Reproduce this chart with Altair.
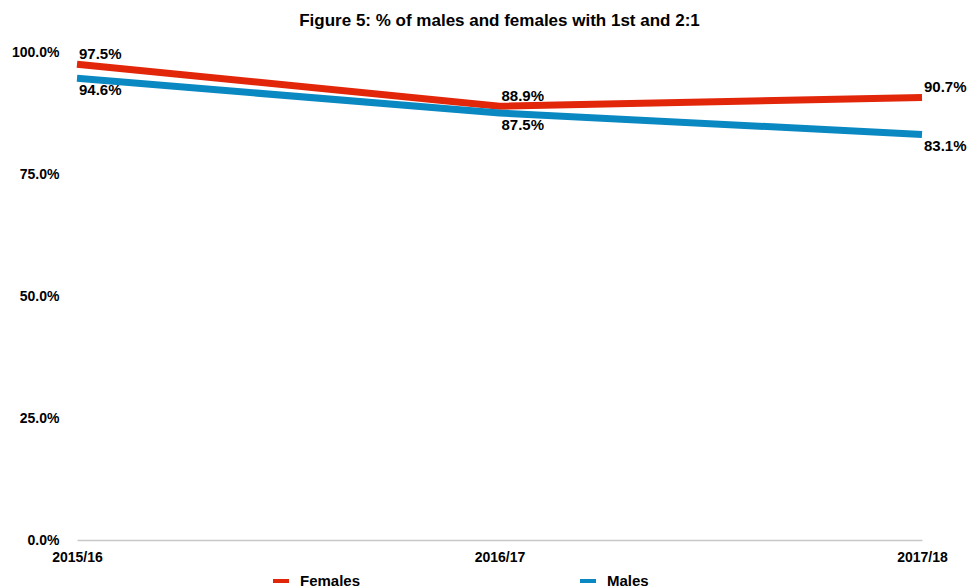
import altair as alt
import pandas as pd

# Share of graduates achieving a 1st or 2:1, by gender and year
years = ["2015/16", "2016/17", "2017/18"]
females = [97.5, 88.9, 90.7]
males = [94.6, 87.5, 83.1]
series = ["Females", "Males"]
colors = ["#e2260a", "#0a88c2"]
y_ticks = [0, 25, 50, 75, 100]

rows = []
for name, vals in zip(series, [females, males]):
    for yr, v in zip(years, vals):
        rows.append({"year": yr, "gender": name, "pct": v, "label": f"{v:.1f}%"})
df = pd.DataFrame(rows)

FONT = "Liberation Sans"

x_enc = alt.X(
    "year:N",
    sort=years,
    scale=alt.Scale(type="point", padding=0),
    axis=alt.Axis(
        title=None, labelAngle=0, ticks=False, grid=False,
        domainColor="#c8c8c8", domainWidth=1.5,
        labelPadding=10, labelFontSize=14, labelFontWeight="bold",
        labelFont=FONT, labelColor="#000000",
    ),
)
y_enc = alt.Y(
    "pct:Q",
    scale=alt.Scale(domain=[0, 100], nice=False),
    axis=alt.Axis(
        title=None, values=y_ticks, ticks=False, grid=False, domain=False,
        labelExpr="format(datum.value, '.1f') + '%'",
        labelPadding=18, labelFontSize=14, labelFontWeight="bold",
        labelFont=FONT, labelColor="#000000",
    ),
)
color_enc = alt.Color(
    "gender:N",
    scale=alt.Scale(domain=series, range=colors),
    legend=alt.Legend(
        title=None, orient="none", direction="horizontal", columns=2,
        legendX=194, legendY=519, padding=0,
        symbolType="stroke", symbolSize=256, symbolStrokeWidth=4,
        labelFontSize=15, labelFontWeight="bold", labelFont=FONT,
        labelColor="#000000", labelOffset=9, columnPadding=211,
    ),
)

lines = alt.Chart(df).mark_line(strokeWidth=7).encode(
    x=x_enc, y=y_enc, color=color_enc,
    order=alt.Order("gender:N", sort="descending"),
)

text_common = dict(align="left", baseline="middle", fontSize=15,
                   fontWeight="bold", font=FONT, color="#000000", dx=2)

labels_f = alt.Chart(df[df.gender == "Females"]).mark_text(dy=-10, **text_common).encode(
    x=alt.X("year:N", sort=years), y="pct:Q", text="label:N"
)
labels_m = alt.Chart(df[df.gender == "Males"]).mark_text(dy=12, **text_common).encode(
    x=alt.X("year:N", sort=years), y="pct:Q", text="label:N"
)

chart = (
    alt.layer(lines, labels_f, labels_m)
    .properties(
        width=845, height=488,
        background="#ffffff",
        autosize=alt.AutoSizeParams(type="none"),
        padding={"left": 77, "top": 52, "right": 46, "bottom": 47},
        title=alt.TitleParams(
            "Figure 5: % of males and females with 1st and 2:1",
            fontSize=17, fontWeight="bold", font=FONT, color="#000000",
            anchor="middle", offset=15,
        ),
    )
    .configure_view(strokeWidth=0, stroke="transparent")
)

chart.save("out.html", embed_options={"renderer": "svg", "actions": False})
